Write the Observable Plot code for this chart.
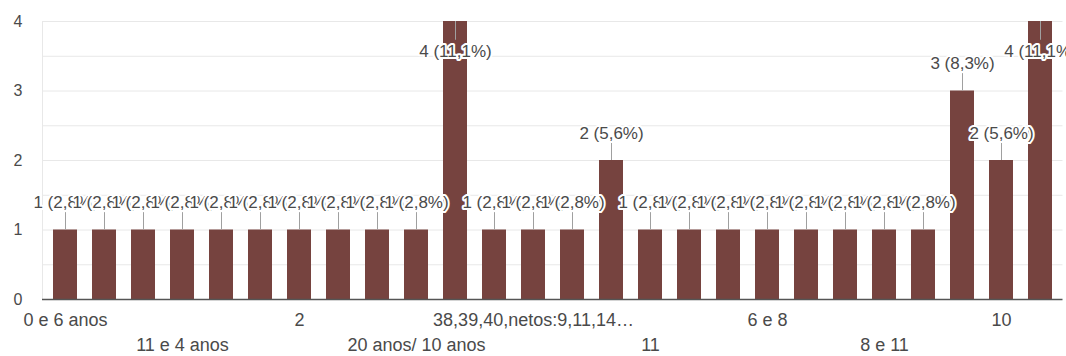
<!DOCTYPE html>
<html><head><meta charset="utf-8">
<script src="https://cdn.jsdelivr.net/npm/d3@7"></script>
<script src="https://cdn.jsdelivr.net/npm/@observablehq/plot@0.6"></script>
<style>body{margin:0;background:#fff} svg{display:block}</style>
</head><body><div id="chart"></div>
<script>
// Category labels (only every third label is visible in the original chart; hidden ones left blank)
const categories = ["0 e 6 anos","","","11 e 4 anos","","","2","","","20 anos/ 10 anos","","","38,39,40,netos:9,11,14…","","","11","","","6 e 8","","","8 e 11","","","10",""];
const counts = [1,1,1,1,1,1,1,1,1,1,4,1,1,1,2,1,1,1,1,1,1,1,1,3,2,4];
const total = 36;
const yTicks = [0,1,2,3,4];
const row1Ticks = [0,6,12,18,24];
const row2Ticks = [3,9,15,21];

const data = counts.map((v, i) => ({i, v}));
const fmt = d => `${d.v} (${(d.v / total * 100).toFixed(1).replace(".", ",")}%)`;
const ymax = d3.max(counts);

const chart = Plot.plot({
  width: 1066, height: 356,
  marginLeft: 42, marginRight: 3.5, marginTop: 21, marginBottom: 57,
  style: {fontFamily: "'Liberation Sans', Arial, sans-serif", color: "#4a4a4a", background: "#fff"},
  x: {domain: d3.range(counts.length), paddingInner: 0.39, paddingOuter: 0.18, axis: null, label: null},
  y: {domain: [0, ymax], axis: null, label: null},
  marks: [
    Plot.gridY(d3.range(0.5, ymax + 0.01, 0.5), {stroke: "#e8e8e8", strokeOpacity: 1}),
    Plot.frame({anchor: "left", stroke: "#e8e8e8"}),
    Plot.barY(data, {x: "i", y: "v", fill: "#76433f"}),
    Plot.ruleY([0], {stroke: "#555", strokeWidth: 1.5}),
    Plot.ruleX(data, {x: "i", y1: "v", y2: d => d.v === ymax ? d.v - 0.27 : d.v + 0.25, stroke: "#a0a0a0"}),
    Plot.text(data.filter(d => d.v < ymax), {x: "i", y: "v", text: fmt, dy: -27, fontSize: 17, fill: "#4a4a4a", stroke: "white", strokeWidth: 4, paintOrder: "stroke"}),
    Plot.text(data.filter(d => d.v === ymax), {x: "i", y: "v", text: fmt, dy: 30, fontSize: 17, fill: "#4a4a4a", stroke: "white", strokeWidth: 4, paintOrder: "stroke"}),
    Plot.axisY(yTicks, {tickSize: 0, tickPadding: 20, fontSize: 16, label: null, tickFormat: d => String(d)}),
    Plot.axisX(row1Ticks, {tickSize: 0, tickPadding: 14, fontSize: 18, label: null, tickFormat: i => categories[i]}),
    Plot.axisX(row2Ticks, {tickSize: 0, tickPadding: 39, fontSize: 18, label: null, tickFormat: i => categories[i]})
  ]
});
document.getElementById("chart").append(chart);
</script>
</body></html>
